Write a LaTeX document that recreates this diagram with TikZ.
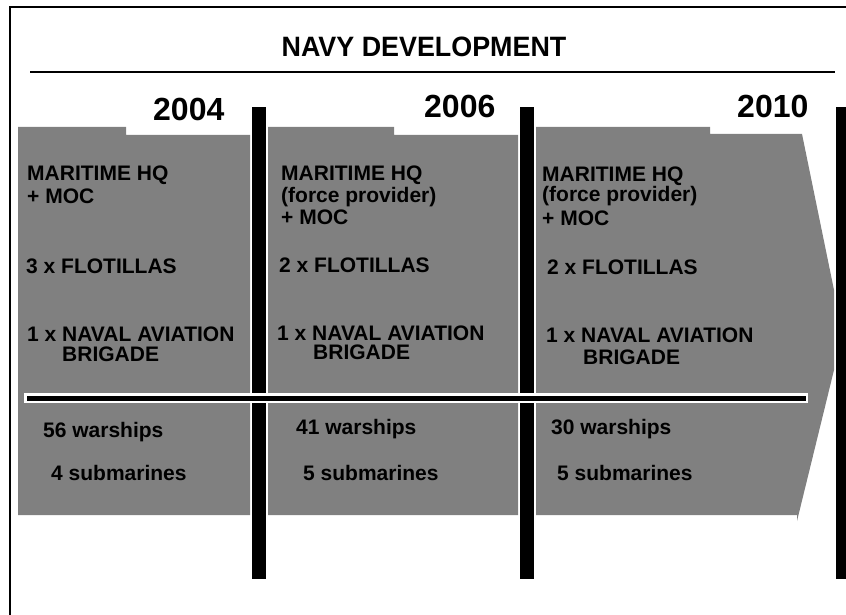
\documentclass[tikz,border=0pt]{standalone}
\usepackage{fontspec}
\setmainfont{Liberation Sans}
\definecolor{panelgrey}{HTML}{808080}
\begin{document}
\begin{tikzpicture}[x=1pt,y=-1pt,
  body/.style={anchor=base west, inner sep=0pt, font=\fontsize{21}{22}\selectfont\bfseries},
  tight/.style={text height=15pt, text depth=0pt},
  yeartxt/.style={anchor=base west, inner sep=0pt, font=\fontsize{32}{34}\selectfont\bfseries},
  titletxt/.style={anchor=base, inner sep=0pt, xscale=0.96, font=\fontsize{28}{30}\selectfont\bfseries},
  panel/.style={fill=panelgrey, draw=none},
  bar/.style={fill=black, draw=none}]
\useasboundingbox (0,0) rectangle (846,615);
% frame
\draw[line width=2pt] (10,615) -- (10,7) -- (846,7);
% title
\node[titletxt] (title) at (424,57) {NAVY DEVELOPMENT};
\draw[line width=2pt] (30,72) -- (835,72);
% panels
\fill[panel] (18,127) -- (126,127) -- (126,135) -- (250,135) -- (250,515) -- (18,515) -- cycle;
\fill[panel] (268,127) -- (394,127) -- (394,135) -- (518,135) -- (518,515) -- (268,515) -- cycle;
\fill[panel] (536,127) -- (710,127) -- (710,134) -- (802,134) -- (834,290) -- (834,370) -- (797,521) -- (797,515) -- (536,515) -- cycle;
% vertical bars
\fill[bar] (252,107) rectangle (266,579);
\fill[bar] (520,107) rectangle (534,579);
\fill[bar] (836,107) rectangle (846,579);
% horizontal bar
\fill[white] (24,393) rectangle (808,403);
\fill[black] (26.5,395.5) rectangle (805.5,400.5);
% years
\node[yeartxt] (y1) at (153,121) {2004};
\node[yeartxt] (y2) at (424,118) {2006};
\node[yeartxt] (y3) at (737,118) {2010};
% panel 1
\node[body] (a1) at (27,180) {MARITIME HQ};
\node[body] (a2) at (27,204) {+ MOC};
\node[body] (a3) at (26,273) {3 x FLOTILLAS};
\node[body,tight] (a4) at (27,341) {1 x NAVAL AVIATION};
\node[body,tight] (a5) at (62,361) {BRIGADE};
\node[body] (a6) at (43,437) {56 warships};
\node[body] (a7) at (51,480) {4 submarines};
% panel 2
\node[body] (b1) at (281,180) {MARITIME HQ};
\node[body] (b2) at (281,202) {(force provider)};
\node[body] (b3) at (281,224) {+ MOC};
\node[body] (b4) at (279,272) {2 x FLOTILLAS};
\node[body,tight] (b5) at (277,340) {1 x NAVAL AVIATION};
\node[body,tight] (b6) at (313,359) {BRIGADE};
\node[body] (b7) at (296,434) {41 warships};
\node[body] (b8) at (303,480) {5 submarines};
% panel 3
\node[body] (c1) at (542,181) {MARITIME HQ};
\node[body] (c2) at (542,201) {(force provider)};
\node[body] (c3) at (542,225) {+ MOC};
\node[body] (c4) at (547,274) {2 x FLOTILLAS};
\node[body,tight] (c5) at (546,342) {1 x NAVAL AVIATION};
\node[body,tight] (c6) at (583,364) {BRIGADE};
\node[body] (c7) at (551,434) {30 warships};
\node[body] (c8) at (557,480) {5 submarines};
\end{tikzpicture}
\end{document}
